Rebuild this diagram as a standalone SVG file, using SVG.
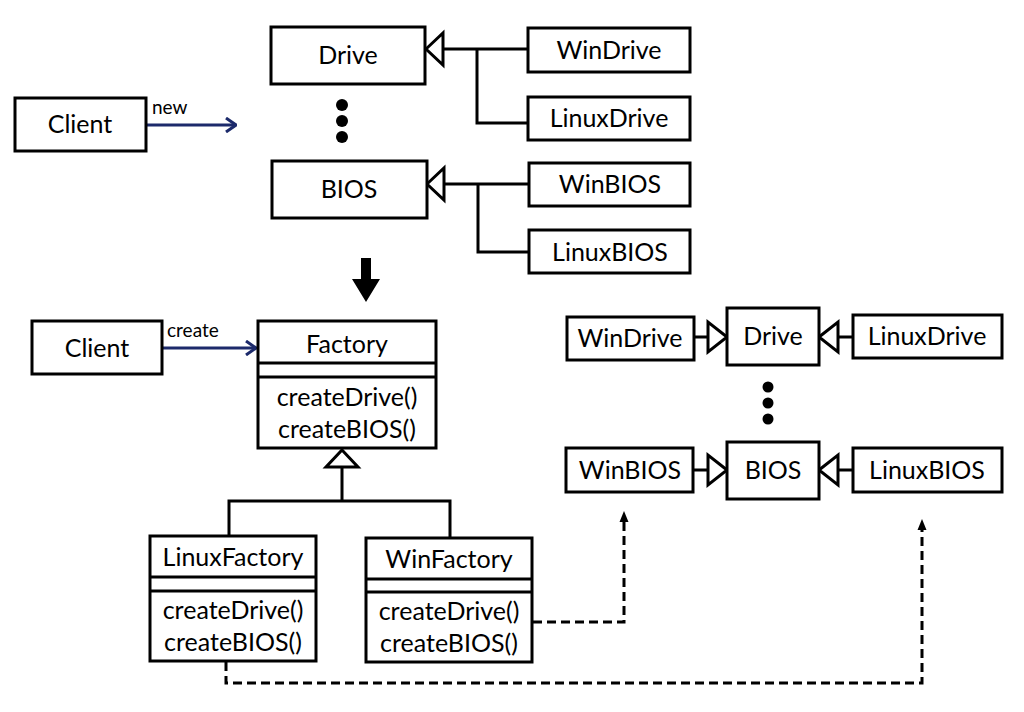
<svg xmlns="http://www.w3.org/2000/svg" width="1024" height="712" viewBox="0 0 1024 712">
<defs>
<style>
.box{fill:#fff;stroke:#000;stroke-width:3}
.t{font-family:Lato,"Liberation Sans",sans-serif;font-size:25px;fill:#000;text-anchor:middle}
.s{font-family:Lato,"Liberation Sans",sans-serif;font-size:19px;fill:#000}
.ln{fill:none;stroke:#000;stroke-width:3}
.tri{fill:#fff;stroke:#000;stroke-width:3;stroke-linejoin:miter}
.nv{fill:none;stroke:#1c2a6b;stroke-width:3}
.dash{fill:none;stroke:#000;stroke-width:3;stroke-dasharray:9 5}
</style>
<marker id="openNavy" viewBox="0 0 12 16" refX="11" refY="8" markerWidth="12" markerHeight="16" markerUnits="userSpaceOnUse" orient="auto">
<path d="M1,1 L11,8 L1,15" fill="none" stroke="#1c2a6b" stroke-width="3"/>
</marker>
<marker id="solid" viewBox="0 0 10 12" refX="9" refY="5" markerWidth="10" markerHeight="12" markerUnits="userSpaceOnUse" orient="auto">
<path d="M0,0 L10,5 L0,10 Z" fill="#000"/>
</marker>
</defs>
<rect width="1024" height="712" fill="#fff"/>

<g id="connectors">
<!-- top -->
<path class="nv" d="M146,125 H236" marker-end="url(#openNavy)"/>
<path class="ln" d="M443,49 H528 M477,49 V123 H528"/>
<path class="tri" d="M426,49 L443,33 L443,65 Z"/>
<path class="ln" d="M444,184 H529 M478,184 V252 H529"/>
<path class="tri" d="M427,184 L444,168 L444,200 Z"/>
<!-- big arrow -->
<path d="M361,258 H371 V279 H380 L366,302 L352,279 H361 Z" fill="#000"/>
<!-- bottom -->
<path class="nv" d="M162,348 H256" marker-end="url(#openNavy)"/>
<path class="ln" d="M342,467 V501 M229,536 V501 H450 V538"/>
<path class="tri" d="M342,450 L358,467 L326,467 Z"/>
<!-- right side -->
<path class="ln" d="M694,337 H708 M853,337 H838"/>
<path class="tri" d="M727,337 L708,322 L708,352 Z"/>
<path class="tri" d="M819,337 L838,322 L838,352 Z"/>
<path class="ln" d="M693,470 H708 M853,470 H838"/>
<path class="tri" d="M727,470 L708,455 L708,485 Z"/>
<path class="tri" d="M819,470 L838,455 L838,485 Z"/>
<!-- dashed -->
<path class="dash" d="M533,622 H624 V522"/>
<path d="M624,511 L628.5,522 L619.5,522 Z" fill="#000"/>
<path class="dash" d="M226,662 V683 H922 V530"/>
<path d="M922,519 L926.5,530 L917.5,530 Z" fill="#000"/>
</g>

<g id="client1"><rect class="box" x="15" y="98" width="131" height="53"/><text class="t" x="80" y="133">Client</text></g>
<text class="s" x="152" y="114">new</text>
<g id="drive1"><rect class="box" x="271" y="27" width="154" height="57"/><text class="t" x="348" y="64">Drive</text></g>
<g id="dots1" fill="#000"><circle cx="342" cy="105" r="6"/><circle cx="342" cy="121" r="6"/><circle cx="342" cy="137" r="6"/></g>
<g id="bios1"><rect class="box" x="272" y="161" width="155" height="57"/><text class="t" x="349" y="198">BIOS</text></g>
<g id="windrive1"><rect class="box" x="528" y="28" width="162" height="44"/><text class="t" x="609" y="59">WinDrive</text></g>
<g id="linuxdrive1"><rect class="box" x="528" y="97" width="162" height="43"/><text class="t" x="609" y="127">LinuxDrive</text></g>
<g id="winbios1"><rect class="box" x="529" y="163" width="161" height="43"/><text class="t" x="610" y="193">WinBIOS</text></g>
<g id="linuxbios1"><rect class="box" x="529" y="230" width="161" height="43"/><text class="t" x="610" y="261">LinuxBIOS</text></g>

<g id="client2"><rect class="box" x="32" y="321" width="130" height="53"/><text class="t" x="97" y="357">Client</text></g>
<text class="s" x="167" y="337">create</text>
<g id="factory"><rect class="box" x="258" y="321" width="178" height="127"/><path class="ln" d="M258,363 H436 M258,377 H436"/>
<text class="t" x="347" y="353">Factory</text><text class="t" x="347" y="406">createDrive()</text><text class="t" x="347" y="438">createBIOS()</text></g>
<g id="linuxfactory"><rect class="box" x="150" y="536" width="166" height="125"/><path class="ln" d="M150,577 H316 M150,591 H316"/>
<text class="t" x="233" y="566">LinuxFactory</text><text class="t" x="233" y="619">createDrive()</text><text class="t" x="233" y="651">createBIOS()</text></g>
<g id="winfactory"><rect class="box" x="366" y="538" width="166" height="124"/><path class="ln" d="M366,579 H532 M366,592 H532"/>
<text class="t" x="449" y="568">WinFactory</text><text class="t" x="449" y="620">createDrive()</text><text class="t" x="449" y="652">createBIOS()</text></g>

<g id="windrive2"><rect class="box" x="567" y="317" width="127" height="43"/><text class="t" x="630" y="347">WinDrive</text></g>
<g id="drive2"><rect class="box" x="727" y="308" width="92" height="57"/><text class="t" x="773" y="345">Drive</text></g>
<g id="linuxdrive2"><rect class="box" x="853" y="315" width="149" height="43"/><text class="t" x="927" y="345">LinuxDrive</text></g>
<g id="dots2" fill="#000"><circle cx="768" cy="387" r="5.5"/><circle cx="768" cy="403" r="5.5"/><circle cx="768" cy="419" r="5.5"/></g>
<g id="winbios2"><rect class="box" x="566" y="448" width="127" height="44"/><text class="t" x="630" y="479">WinBIOS</text></g>
<g id="bios2"><rect class="box" x="727" y="442" width="92" height="57"/><text class="t" x="773" y="479">BIOS</text></g>
<g id="linuxbios2"><rect class="box" x="853" y="448" width="149" height="44"/><text class="t" x="927" y="479">LinuxBIOS</text></g>
</svg>
